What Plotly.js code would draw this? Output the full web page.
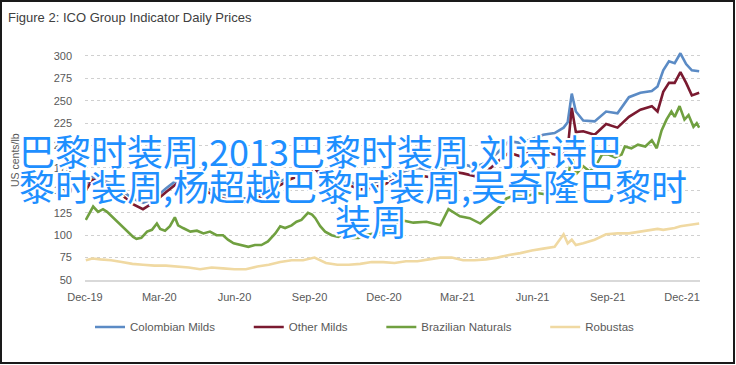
<!DOCTYPE html>
<html>
<head>
<meta charset="utf-8">
<script src="https://cdn.plot.ly/plotly-3.0.1.min.js"></script>
<style>
  html, body { margin: 0; padding: 0; background: #fff; }
  #wrap { position: relative; width: 736px; height: 365px; overflow: hidden; }
  #chart { position: absolute; left: 0; top: 0; width: 736px; height: 365px; }
  #frame { position: absolute; left: 0; top: 0; width: 735px; height: 364px; box-sizing: border-box;
           border: 2px solid #1a1a1a; pointer-events: none; }
</style>
</head>
<body>
<div id="wrap"><div id="chart"></div><div id="frame"></div></div>
<script>
const dates = [
  '2019-12-02','2019-12-10','2019-12-20','2020-01-02','2020-01-15','2020-01-28','2020-02-10','2020-02-24',
  '2020-03-09','2020-03-23','2020-04-06','2020-04-20','2020-05-04','2020-05-18','2020-06-01','2020-06-15',
  '2020-06-29','2020-07-13','2020-07-27','2020-08-10','2020-08-24','2020-09-07','2020-09-21','2020-10-05',
  '2020-10-19','2020-11-02','2020-11-16','2020-11-30','2020-12-14','2020-12-28','2021-01-11','2021-01-25',
  '2021-02-08','2021-02-22','2021-03-08','2021-03-22','2021-04-05','2021-04-19','2021-05-03','2021-05-17',
  '2021-05-31','2021-06-14','2021-06-28','2021-07-09','2021-07-14','2021-07-19','2021-07-24','2021-08-02',
  '2021-08-16','2021-08-30','2021-09-13','2021-09-27','2021-10-11','2021-10-25','2021-11-01','2021-11-08',
  '2021-11-15','2021-11-22','2021-11-29','2021-12-06','2021-12-13','2021-12-22'
];
const colombianMilds = [
  156,165,162,158,150,141,136,141,152,162,160,156,150,146,143,141,
  145,152,160,166,170,176,165,158,160,155,158,162,168,172,175,173,
  171,181,179,176,181,192,205,203,207,212,214,220,226,258,238,228,
  227,238,236,254,259,261,266,284,294,292,303,291,284,283
];
const otherMilds = [
  150,162,160,155,145,135,129,137,148,158,155,152,146,141,138,136,
  141,148,156,163,168,175,160,153,156,151,153,156,162,165,167,165,
  162,171,169,166,170,182,192,188,194,193,190,190,196,242,215,216,
  212,224,220,232,240,244,238,260,270,270,282,270,256,259
];
const robustas = [
  72,74,73,72,70,68,67,66,66,65,64,62,64,63,62,62,
  65,67,70,72,72,75,69,67,67,68,70,70,69,71,71,73,
  75,75,72,72,73,75,78,80,83,85,87,101,91,95,89,91,
  95,101,102,102,104,106,107,106,107,108,110,111,112,113
];
// Brazilian Naturals read at a finer spacing
const brazilDates = [
  '2019-12-02','2019-12-11','2019-12-17','2019-12-23','2019-12-28','2020-01-05','2020-01-13','2020-01-21',
  '2020-01-29','2020-02-02','2020-02-08','2020-02-15','2020-02-21','2020-02-27','2020-03-02','2020-03-08',
  '2020-03-14','2020-03-20','2020-03-24','2020-03-30','2020-04-08','2020-04-16','2020-04-24','2020-05-02',
  '2020-05-10','2020-05-18','2020-05-24','2020-05-31','2020-06-08','2020-06-18','2020-06-26','2020-07-04',
  '2020-07-12','2020-07-21','2020-07-27','2020-08-02','2020-08-10','2020-08-16','2020-08-22','2020-08-30',
  '2020-09-04','2020-09-08','2020-09-14','2020-09-20','2020-09-28','2020-10-06','2020-10-14','2020-10-23',
  '2020-10-31','2020-11-08','2020-11-24','2020-12-11','2020-12-17','2020-12-21','2021-01-06','2021-01-22',
  '2021-02-08','2021-02-18','2021-03-04','2021-03-16','2021-03-29','2021-04-10','2021-04-22','2021-04-30',
  '2021-05-11','2021-05-23','2021-06-06','2021-06-22','2021-07-05','2021-07-12','2021-07-19','2021-07-24',
  '2021-08-02','2021-08-10','2021-08-19','2021-08-25','2021-09-02','2021-09-10','2021-09-18','2021-09-22',
  '2021-09-30','2021-10-08','2021-10-17','2021-10-25','2021-10-31','2021-11-06','2021-11-12','2021-11-18',
  '2021-11-22','2021-11-28','2021-12-04','2021-12-09','2021-12-15','2021-12-19','2021-12-22'
];
const brazilianNaturals = [
  117,132,126,129,126,119,113,106,98,96,97,104,106,113,107,105,
  110,120,111,108,104,105,102,104,100,100,95,91,89,87,89,89,
  93,102,110,108,111,115,117,125,123,119,110,104,100,98,102,97,
  97,100,103,107,114,117,114,115,111,129,121,119,113,123,132,141,
  145,143,147,145,150,153,188,168,177,171,180,190,190,187,190,199,
  197,201,199,206,197,217,229,238,232,244,229,234,221,225,220
];
const seriesNames = ['Colombian Milds','Other Milds','Brazilian Naturals','Robustas'];
const seriesColors = ['#5b8bc5','#7a1a30','#70a040','#f0d9a2'];
const titleText = 'Figure 2: ICO Group Indicator Daily Prices';
const yTitleText = 'US cents/lb';
const watermarkLines = ['巴黎时装周,2013巴黎时装周,刘诗诗巴', '黎时装周,杨超越巴黎时装周,吴奇隆巴黎时', '装周'];

const pad = '\u00a0'.repeat(9);
const seriesX = [dates, dates, brazilDates, dates];
const allValues = [colombianMilds, otherMilds, brazilianNaturals, robustas];
const traces = allValues.map((vals, i) => ({
  type: 'scatter', mode: 'lines', x: seriesX[i], y: vals,
  name: seriesNames[i] + (i < 3 ? pad : ''),
  line: { color: seriesColors[i], width: 2.6 },
  hoverinfo: 'x+y+name'
}));

const tickFont = { family: 'Liberation Sans, Arial, sans-serif', size: 11, color: '#595959' };
const shadow = '2px 0 0 #fff, -2px 0 0 #fff, 0 2px 0 #fff, 0 -2px 0 #fff, 1.5px 1.5px 0 #fff, -1.5px -1.5px 0 #fff, 1.5px -1.5px 0 #fff, -1.5px 1.5px 0 #fff';
const wmFont = { family: '"Noto Sans CJK SC", sans-serif', size: 36, color: '#1e8fff', shadow: shadow };

const layout = {
  width: 736, height: 365,
  margin: { l: 85, r: 36, t: 47, b: 85 },
  paper_bgcolor: '#ffffff', plot_bgcolor: '#ffffff',
  title: { text: titleText, x: 8 / 736, xanchor: 'left', xref: 'container', y: 1 - 17 / 365, yanchor: 'middle', yref: 'container',
           font: { family: 'Liberation Sans, Arial, sans-serif', size: 13, color: '#404040' } },
  showlegend: true,
  legend: { orientation: 'h', x: 5 / 615, xanchor: 'left', y: -0.2017, yanchor: 'middle', yref: 'paper',
            font: { family: 'Liberation Sans, Arial, sans-serif', size: 11.5, color: '#595959' },
            itemwidth: 30, bgcolor: 'rgba(0,0,0,0)' },
  xaxis: {
    type: 'date', range: ['2019-12-01', '2021-12-23'],
    tick0: '2019-12-01', dtick: 'M3', tickformat: '%b-%y',
    showgrid: false, showline: true, linecolor: '#d9d9d9', linewidth: 1.5,
    ticks: '', tickfont: tickFont, ticklabelstandoff: 6, zeroline: false
  },
  yaxis: {
    range: [50, 310], tick0: 50, dtick: 25,
    showgrid: true, gridcolor: '#d0d0d0', griddash: 'dot', gridwidth: 1,
    showline: false, zeroline: false, ticks: '', tickfont: tickFont, ticklabelstandoff: 12
  },
  annotations: [
    { text: yTitleText, xref: 'paper', yref: 'paper', x: (15 - 85) / 615, y: (280 - 160) / 233,
      xanchor: 'center', yanchor: 'middle', textangle: -90, showarrow: false,
      font: { family: 'Liberation Sans, Arial, sans-serif', size: 10.5, color: '#595959' } },
    { text: watermarkLines[0], xref: 'paper', yref: 'paper', x: (17 - 85) / 615, y: (280 - 150) / 233,
      xanchor: 'left', yanchor: 'middle', showarrow: false, font: wmFont },
    { text: watermarkLines[1], xref: 'paper', yref: 'paper', x: (17 - 85) / 615, y: (280 - 185) / 233,
      xanchor: 'left', yanchor: 'middle', showarrow: false, font: wmFont },
    { text: watermarkLines[2], xref: 'paper', yref: 'paper', x: (333 - 85) / 615, y: (280 - 220) / 233,
      xanchor: 'left', yanchor: 'middle', showarrow: false, font: wmFont }
  ]
};

Plotly.newPlot('chart', traces, layout, { displayModeBar: false, staticPlot: true });
</script>
</body>
</html>
